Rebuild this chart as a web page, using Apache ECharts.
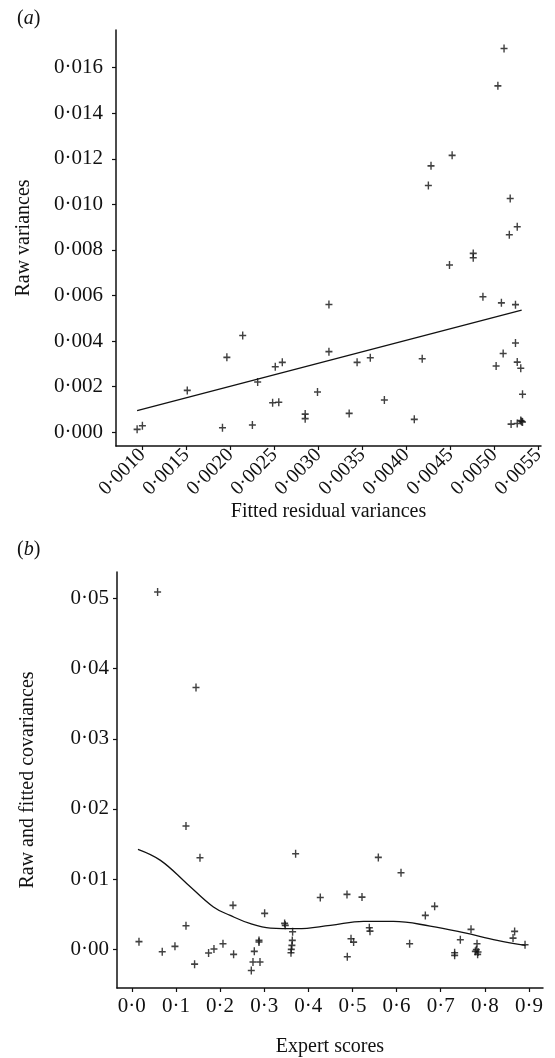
<!DOCTYPE html>
<html>
<head>
<meta charset="utf-8">
<script src="https://cdn.jsdelivr.net/npm/echarts@6/dist/echarts.min.js"></script>
<style>
  html, body { margin: 0; padding: 0; background: #fff; }
  #chart { width: 555px; height: 1058px; }
</style>
</head>
<body>
<div id="chart"></div>
<script>
// panel (a): raw vs fitted residual variances
const fittedVar = [0.00094, 0.00100, 0.00151, 0.00191, 0.00196, 0.00214, 0.00225, 0.00231, 0.00248, 0.00255,
  0.00251, 0.00259, 0.00285, 0.00285, 0.00299, 0.00312, 0.00312, 0.00335, 0.00344, 0.00359,
  0.00375, 0.00409, 0.00418, 0.00425, 0.00428, 0.00449, 0.00452, 0.00476, 0.00476, 0.00487,
  0.00502, 0.00504, 0.00508, 0.00510, 0.00511, 0.00517, 0.00518, 0.00519, 0.00524, 0.00524,
  0.00526, 0.00526, 0.00526, 0.00530, 0.00531, 0.00532, 0.00532, 0.00530];
const rawVar = [0.00013, 0.00029, 0.00184, 0.00020, 0.00329, 0.00425, 0.00032, 0.00221, 0.00130, 0.00132,
  0.00288, 0.00307, 0.00080, 0.00060, 0.00177, 0.00561, 0.00354, 0.00083, 0.00307, 0.00327,
  0.00142, 0.00057, 0.00323, 0.01083, 0.01169, 0.00734, 0.01215, 0.00785, 0.00766, 0.00595,
  0.00291, 0.01520, 0.00568, 0.00346, 0.01684, 0.00867, 0.01026, 0.00036, 0.00560, 0.00392,
  0.00902, 0.00308, 0.00039, 0.00281, 0.00048, 0.00167, 0.00045, 0.00052];
const regLineX = [0.00094, 0.00531];
const regLineY = [0.00095, 0.00536];
const ticksAX = [0.0010, 0.0015, 0.0020, 0.0025, 0.0030, 0.0035, 0.0040, 0.0045, 0.0050, 0.0055];
const ticksAY = [0, 0.002, 0.004, 0.006, 0.008, 0.010, 0.012, 0.014, 0.016];

// panel (b): covariances vs expert scores
const expertScores = [0.0163, 0.0585, 0.069, 0.0978, 0.1228, 0.1228, 0.1423, 0.1455, 0.1545, 0.174,
  0.1862, 0.2066, 0.2293, 0.2307, 0.2708, 0.2746, 0.2776, 0.2882, 0.2882, 0.2905,
  0.301, 0.3463, 0.3478, 0.3644, 0.3637, 0.3628, 0.3614, 0.3607, 0.3712, 0.4271,
  0.4876, 0.4883, 0.4967, 0.5026, 0.5216, 0.5382, 0.5397, 0.5586, 0.6100, 0.6295,
  0.6651, 0.6862, 0.7315, 0.7315, 0.7444, 0.7686, 0.7822, 0.7807, 0.7784, 0.7845,
  0.7836, 0.8638, 0.8674, 0.891];
const rawCov = [0.0011, 0.0509, -0.00033, 0.00043, 0.01757, 0.00337, -0.0021, 0.0373, 0.01306, -0.00052,
  0.00005, 0.0008, 0.00627, -0.00071, -0.0030, -0.0018, -0.00028, 0.00128, 0.00105, -0.0018,
  0.00513, 0.0037, 0.00342, 0.00252, 0.00128, 0.00057, 0.0, -0.00047, 0.01363, 0.0074,
  0.00783, -0.00104, 0.00152, 0.00104, 0.00745, 0.00309, 0.0026, 0.0131, 0.01092, 0.00081,
  0.00484, 0.00613, -0.00047, -0.00085, 0.00138, 0.00285, 0.00081, -0.00004, -0.00028, -0.00038,
  -0.00071, 0.00161, 0.00256, 0.00067];
const fitCurveX = [0.014, 0.065, 0.125, 0.185, 0.223, 0.269, 0.314, 0.374, 0.450, 0.525, 0.593, 0.676, 0.752, 0.828, 0.892];
const fitCurveY = [0.01425, 0.01268, 0.00936, 0.00603, 0.00484, 0.00366, 0.00304, 0.00295, 0.00342, 0.00399, 0.00399, 0.00332, 0.00238, 0.00128, 0.00057];
const ticksBX = [0, 0.1, 0.2, 0.3, 0.4, 0.5, 0.6, 0.7, 0.8, 0.9];
const ticksBY = [0, 0.01, 0.02, 0.03, 0.04, 0.05];

const zip = (xs, ys) => xs.map((x, i) => [x, ys[i]]);
const dot = (v, d) => v.toFixed(d).replace('.', '·');

const font = 'Liberation Serif';
const ink = '#111';
const plus = 'path://M4,0H6V4H10V6H6V10H4V6H0V4H4Z';

function valueAxis(idx, min, max, ticks, digits, name, gap, extra) {
  return Object.assign({
    type: 'value', gridIndex: idx, min: min, max: max,
    name: name, nameLocation: 'middle', nameGap: gap,
    nameTextStyle: { fontFamily: font, fontSize: 20, color: ink },
    axisLine: { show: true, onZero: false, lineStyle: { color: ink, width: 1.5 } },
    axisTick: { show: true, length: 4, lineStyle: { color: ink, width: 1.2 }, customValues: ticks },
    axisLabel: { fontFamily: font, fontSize: 21, color: ink, customValues: ticks,
      formatter: v => dot(v, digits) },
    splitLine: { show: false }
  }, extra || {});
}

const chart = echarts.init(document.getElementById('chart'), null, { renderer: 'canvas' });
chart.setOption({
  animation: false,
  backgroundColor: '#fff',
  title: [
    { text: '({i|a})', left: 12, top: 4, textStyle: { fontFamily: font, fontSize: 20, fontWeight: 'normal', color: ink,
      rich: { i: { fontFamily: font, fontSize: 20, fontStyle: 'italic', color: ink } } } },
    { text: '({i|b})', left: 12, top: 535, textStyle: { fontFamily: font, fontSize: 20, fontWeight: 'normal', color: ink,
      rich: { i: { fontFamily: font, fontSize: 20, fontStyle: 'italic', color: ink } } } }
  ],
  grid: [
    { left: 116, top: 30, right: 14, height: 416 },
    { left: 117, top: 572, right: 12, height: 416 }
  ],
  xAxis: [
    valueAxis(0, 0.0007, 0.00553, ticksAX, 4, 'Fitted residual variances', 48,
      { axisLabel: { fontFamily: font, fontSize: 20, color: ink, rotate: 45, margin: 6, customValues: ticksAX,
        formatter: v => dot(v, 4) } }),
    valueAxis(1, -0.0335, 0.9317, ticksBX, 1, 'Expert scores', 49)
  ],
  yAxis: [
    valueAxis(0, -0.0006, 0.01765, ticksAY, 3, 'Raw variances', 82,
      { axisLabel: { fontFamily: font, fontSize: 21, color: ink, margin: 13, customValues: ticksAY,
        formatter: v => dot(v, 3) } }),
    valueAxis(1, -0.0055, 0.05375, ticksBY, 2, 'Raw and fitted covariances', 79)
  ],
  series: [
    { type: 'scatter', xAxisIndex: 0, yAxisIndex: 0, data: zip(fittedVar, rawVar),
      symbol: plus, symbolSize: [7, 8], itemStyle: { color: ink } },
    { type: 'line', xAxisIndex: 0, yAxisIndex: 0, data: zip(regLineX, regLineY),
      showSymbol: false, lineStyle: { color: ink, width: 1.3 } },
    { type: 'scatter', xAxisIndex: 1, yAxisIndex: 1, data: zip(expertScores, rawCov),
      symbol: plus, symbolSize: [7, 8], itemStyle: { color: ink } },
    { type: 'line', xAxisIndex: 1, yAxisIndex: 1, data: zip(fitCurveX, fitCurveY),
      showSymbol: false, smooth: 0.4, lineStyle: { color: ink, width: 1.3 } }
  ]
});
</script>
</body>
</html>
